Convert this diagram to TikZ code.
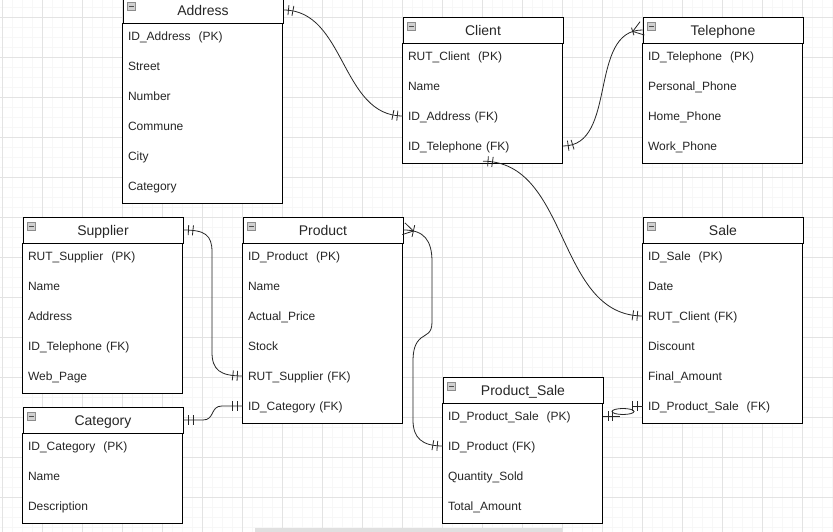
\documentclass[tikz,border=0pt]{standalone}
\usepackage{fontspec}
\setmainfont{Liberation Sans}
\usetikzlibrary{positioning,decorations.markings}

\tikzset{
  minorgrid/.style={draw=black!3, line width=0.6pt, step=10pt},
  majorgrid/.style={draw=black!11, line width=0.7pt, step=40pt},
  entity/.style={draw, fill=white, line width=0.9pt, minimum width=160pt, minimum height=26pt,
    inner sep=0pt, text height=13pt, text depth=1pt, font=\fontsize{14}{16}\selectfont, text=black!85,
    path picture={
      \draw[black!45, fill=black!18, line width=0.6pt]
        ([shift={(4pt,-5.5pt)}]path picture bounding box.north west) rectangle ++(8pt,-8pt);
      \draw[black!70, line width=0.8pt]
        ([shift={(5.5pt,-9.5pt)}]path picture bounding box.north west) -- ++(5pt,0pt);}},
  box/.style={draw, fill=white, line width=0.9pt},
  attr/.style={minimum width=160pt, text width=150pt, inner xsep=5pt, inner ysep=0pt,
    minimum height=30pt, text height=11pt, text depth=2pt, align=left,
    font=\fontsize{12}{14}\selectfont, text=black!85},
  rel/.style={draw=black!85, line width=0.8pt},
  one start/.style={postaction={decorate, decoration={markings,
    mark=at position 5pt with {\draw[line width=0.8pt] (0,-5pt) -- (0,5pt);},
    mark=at position 9.5pt with {\draw[line width=0.8pt] (0,-5pt) -- (0,5pt);}}}},
  one end/.style={postaction={decorate, decoration={markings,
    mark=at position -5.5pt with {\draw[line width=0.8pt] (0,-5pt) -- (0,5pt);},
    mark=at position -10pt with {\draw[line width=0.8pt] (0,-5pt) -- (0,5pt);}}}},
  many start/.style={postaction={decorate, decoration={markings,
    mark=at position 10pt with {\draw[line width=0.8pt] (0,-6pt) -- (0,6pt)
      (0,0) -- (-10pt,6pt) (0,0) -- (-10pt,-6pt);}}}},
  many end/.style={postaction={decorate, decoration={markings,
    mark=at position -10pt with {\draw[line width=0.8pt] (0,-4pt) -- (0,4pt)
      (0,0) -- (10pt,7pt) (0,0) -- (10pt,-7pt);}}}}
}

\begin{document}
\begin{tikzpicture}[x=1pt, y=1pt, node distance=30pt, on grid]
   \useasboundingbox (0,0) rectangle (833,532);
   \fill[white] (0,0) rectangle (833,532);
   \draw[minorgrid, shift={(2,5)}] (-2,-5) grid (831,527);
   \draw[majorgrid, shift={(2,35)}] (-2,-35) grid (831,497);
   \fill[black!12] (255,0) rectangle (562,4);

   % Address
   \node[entity] (addr) at (203,522) {Address};
   \draw[box] (addr.south west) rectangle ++(160,-180);
   \node[attr, below=26pt of addr] (addr_1) {ID\_Address~~(PK)};
   \node[attr, below=of addr_1] (addr_2) {Street};
   \node[attr, below=of addr_2] (addr_3) {Number};
   \node[attr, below=of addr_3] (addr_4) {Commune};
   \node[attr, below=of addr_4] (addr_5) {City};
   \node[attr, below=of addr_5] (addr_6) {Category};

   % Client
   \node[entity] (cli) at (483,502) {Client};
   \draw[box] (cli.south west) rectangle ++(160,-120);
   \node[attr, below=26pt of cli] (cli_1) {RUT\_Client~~(PK)};
   \node[attr, below=of cli_1] (cli_2) {Name};
   \node[attr, below=of cli_2] (cli_3) {ID\_Address (FK)};
   \node[attr, below=of cli_3] (cli_4) {ID\_Telephone (FK)};

   % Telephone
   \node[entity] (tel) at (723,502) {Telephone};
   \draw[box] (tel.south west) rectangle ++(160,-120);
   \node[attr, below=26pt of tel] (tel_1) {ID\_Telephone~~(PK)};
   \node[attr, below=of tel_1] (tel_2) {Personal\_Phone};
   \node[attr, below=of tel_2] (tel_3) {Home\_Phone};
   \node[attr, below=of tel_3] (tel_4) {Work\_Phone};

   % Supplier
   \node[entity] (sup) at (103,302) {Supplier};
   \draw[box] (sup.south west) rectangle ++(160,-150);
   \node[attr, below=26pt of sup] (sup_1) {RUT\_Supplier~~(PK)};
   \node[attr, below=of sup_1] (sup_2) {Name};
   \node[attr, below=of sup_2] (sup_3) {Address};
   \node[attr, below=of sup_3] (sup_4) {ID\_Telephone (FK)};
   \node[attr, below=of sup_4] (sup_5) {Web\_Page};

   % Product
   \node[entity] (prod) at (323,302) {Product};
   \draw[box] (prod.south west) rectangle ++(160,-180);
   \node[attr, below=26pt of prod] (prod_1) {ID\_Product~~(PK)};
   \node[attr, below=of prod_1] (prod_2) {Name};
   \node[attr, below=of prod_2] (prod_3) {Actual\_Price};
   \node[attr, below=of prod_3] (prod_4) {Stock};
   \node[attr, below=of prod_4] (prod_5) {RUT\_Supplier (FK)};
   \node[attr, below=of prod_5] (prod_6) {ID\_Category (FK)};

   % Sale
   \node[entity] (sale) at (723,302) {Sale};
   \draw[box] (sale.south west) rectangle ++(160,-180);
   \node[attr, below=26pt of sale] (sale_1) {ID\_Sale~~(PK)};
   \node[attr, below=of sale_1] (sale_2) {Date};
   \node[attr, below=of sale_2] (sale_3) {RUT\_Client (FK)};
   \node[attr, below=of sale_3] (sale_4) {Discount};
   \node[attr, below=of sale_4] (sale_5) {Final\_Amount};
   \node[attr, below=of sale_5] (sale_6) {ID\_Product\_Sale~~(FK)};

   % Category
   \node[entity] (cat) at (103,112) {Category};
   \draw[box] (cat.south west) rectangle ++(160,-90);
   \node[attr, below=26pt of cat] (cat_1) {ID\_Category~~(PK)};
   \node[attr, below=of cat_1] (cat_2) {Name};
   \node[attr, below=of cat_2] (cat_3) {Description};

   % Product_Sale
   \node[entity] (ps) at (523,142) {Product\_Sale};
   \draw[box] (ps.south west) rectangle ++(160,-120);
   \node[attr, below=26pt of ps] (ps_1) {ID\_Product\_Sale~~(PK)};
   \node[attr, below=of ps_1] (ps_2) {ID\_Product (FK)};
   \node[attr, below=of ps_2] (ps_3) {Quantity\_Sold};
   \node[attr, below=of ps_3] (ps_4) {Total\_Amount};

   % relations
   \draw[rel, one start, one end] (addr.east) to[out=0, in=180] (cli_3.west);
   \draw[rel, one start, many end] (cli_4.east) to[out=0, in=180] (tel.west);
   \draw[rel, one start, one end] (cli_4.south) to[out=0, in=180] (sale_3.west);
   \draw[rel, one start, one end] (sup.east) .. controls (205,302) and (212,297) .. (212,280)
      -- (212,180) .. controls (212,162) and (220,156) .. (prod_5.west);
   \draw[rel, one start, one end] (cat.east) -- (203,112) .. controls (215,112) and (210,126) .. (222,126)
      -- (prod_6.west);
   \draw[rel, many start, one end] (prod.east) .. controls (424,302) and (432,292) .. (432,270)
      -- (432,210) .. controls (432,198) and (426,198) .. (421,194)
      .. controls (415,189) and (413,182) .. (413,170)
      -- (413,112) .. controls (413,94) and (422,86) .. (ps_2.west);
   \draw[rel, one start] (ps_1.east) -- ++(17,0) coordinate (ps_loop);
   \draw[rel] (623,120.5) ellipse (11pt and 3pt);
   \draw[rel, one end] (632,126) -- (sale_6.west);
\end{tikzpicture}
\end{document}
